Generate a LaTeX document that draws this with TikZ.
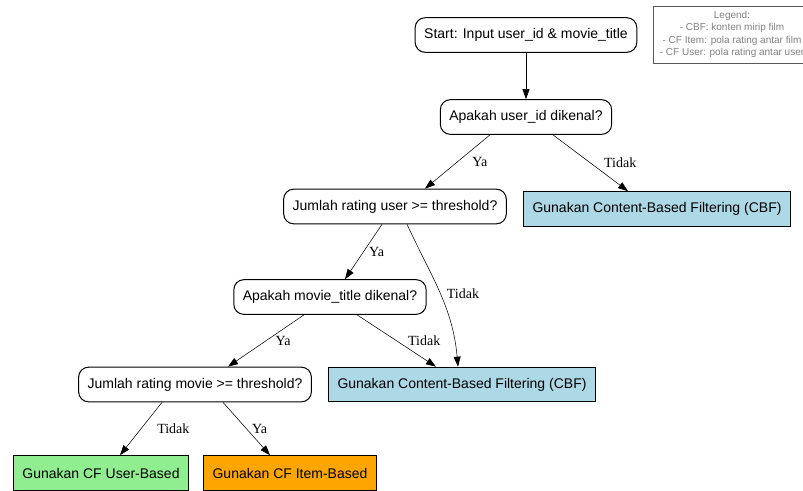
\documentclass[tikz,border=0pt]{standalone}
\usepackage{fontspec}
\setmainfont{Liberation Sans}
\newfontfamily\lblfont{Liberation Serif}
\usetikzlibrary{arrows.meta}
\definecolor{cbfblue}{HTML}{ADD8E6}
\definecolor{usergreen}{HTML}{90EE90}
\definecolor{itemorange}{HTML}{FFA500}

\begin{document}
\begin{tikzpicture}[x=0.75pt, y=-0.75pt, font=\fontsize{10.5}{12}\selectfont,
	dec/.style = {draw, rounded corners=7.5pt, minimum height=26pt, inner xsep=6.75pt, line width=0.75pt},
	act/.style = {draw, fill=#1, minimum height=26pt, inner xsep=6.75pt, line width=0.75pt},
	lbl/.style = {font=\lblfont\fontsize{10.5}{12}\selectfont, inner sep=0pt},
	legend/.style = {draw=black!65, text=black!50, align=center, minimum width=118.5pt, minimum height=42.75pt, font=\fontsize{7.5}{9.2}\selectfont},
	>={Triangle[length=7.5pt,width=5.25pt]}]
	\useasboundingbox (0,0) rectangle (803,490);
	\clip (0,0) rectangle (803,490);
	\node[dec] (start) at (526,35) {Start: Input user\_id \& movie\_title};
	\node[dec] (au) at (526,117) {Apakah user\_id dikenal?};
	\node[dec] (ju) at (395,206.5) {Jumlah rating user >= threshold?};
	\node[act=cbfblue] (cbf1) at (657,209) {Gunakan Content-Based Filtering (CBF)};
	\node[dec] (am) at (330,297) {Apakah movie\_title dikenal?};
	\node[act=cbfblue] (cbf2) at (462,384.5) {Gunakan Content-Based Filtering (CBF)};
	\node[dec] (jm) at (195,384.5) {Jumlah rating movie >= threshold?};
	\node[act=usergreen] (cfu) at (101,473) {Gunakan CF User-Based};
	\node[act=itemorange] (cfi) at (290,473) {Gunakan CF Item-Based};
	\node[legend] (leg) at (732,34.5) {Legend:\\- CBF: konten mirip film\\- CF Item: pola rating antar film\\- CF User: pola rating antar user};
	\draw[->] (start) -- (au);
	\draw[->] ([xshift=-27pt]au.south) -- ([xshift=22.5pt]ju.north) node[lbl, midway, right=11pt] {Ya};
	\draw[->] ([xshift=20.25pt]au.south) -- ([xshift=-21.75pt]cbf1.north) node[lbl, midway, right=10pt] {Tidak};
	\draw[->] ([xshift=-9.75pt]ju.south) -- ([xshift=11.25pt]am.north) node[lbl, midway, right=4pt] {Ya};
	\draw[->] ([xshift=9pt]ju.south) to[out=-65, in=95] node[lbl, pos=0.5, right=5pt] {Tidak} ([xshift=-3pt]cbf2.north);
	\draw[->] ([xshift=-19.5pt]am.south) -- ([xshift=24.75pt]jm.north) node[lbl, midway, right=7pt] {Ya};
	\draw[->] ([xshift=20.25pt]am.south) -- ([xshift=-19.5pt]cbf2.north) node[lbl, midway, right=8.5pt] {Tidak};
	\draw[->] ([xshift=-24.75pt]jm.south) -- ([xshift=14.25pt]cfu.north) node[lbl, midway, right=12pt] {Tidak};
	\draw[->] ([xshift=21pt]jm.south) -- ([xshift=-15pt]cfi.north) node[lbl, midway, right=4pt] {Ya};
\end{tikzpicture}
\end{document}
